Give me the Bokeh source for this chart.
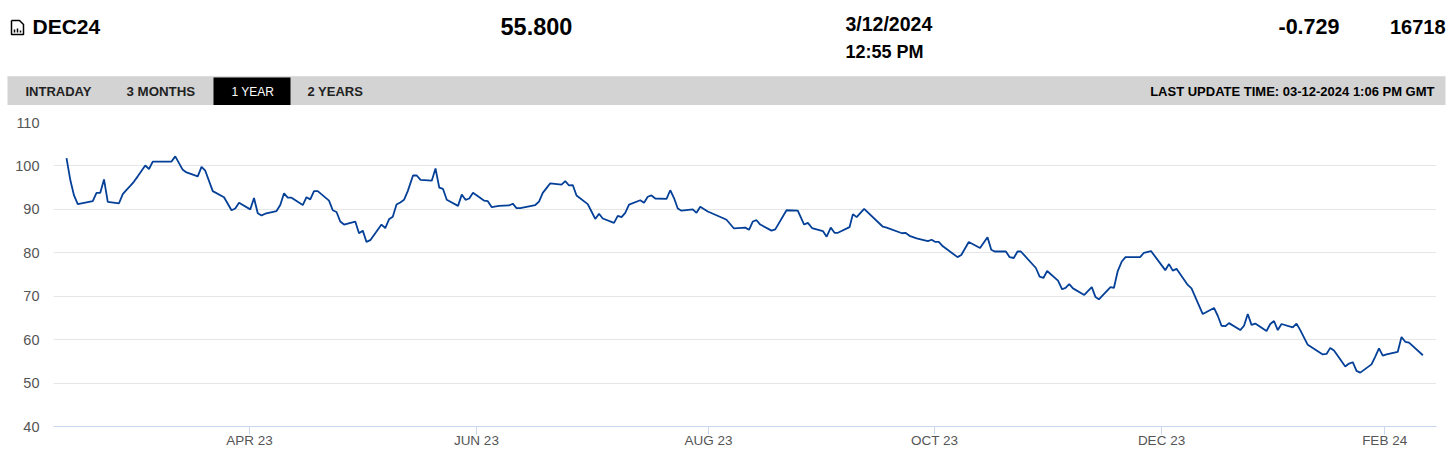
from bokeh.plotting import figure
from bokeh.layouts import column
from bokeh.models import FixedTicker, Range1d
from bokeh.core.properties import value
from bokeh.embed import file_html
from bokeh.resources import INLINE

# --- data ---
DAYS = [0,1,2,3,7,8,9,10,11,14,15,16,17,18,19,21,22,23,28,29,31,32,35,36,37,39,42,44,45,46,49,50,51,52,53,56,57,58,59,60,
        63,64,65,66,67,70,71,72,73,74,77,78,79,80,81,84,85,86,87,88,89,90,91,
        92.4,93.4,94.4,97.4,98.4,99.4,100.4,101.4,104.4,105.4,106.4,107.4,108.4,111.4,112.3,113.4,115.3,
        118,119,120,121,125,126,127,128,129,132,133,134,135,136,139,140,141,142,143,146,147,148,149,150,
        153,154,155,156,157,160,161,162,163,164,167,168,169,171,175,176,178,181,182,183,184,185,188,189,192,195,
        196.7,197.7,198.8,201.7,202.7,203.8,204.8,205.7,208.8,209.7,210.7,212.7,217.7,218.7,222.8,223.7,224.8,226.7,
        229.7,230.7,231.7,232.6,233.7,237.6,238.6,240.6,243.6,245.6,246.6,247.5,250.5,251.5,252.6,253.6,254.5,
        258.5,259.5,260.5,261.5,264.4,265.5,266.4,267.4,268.4,271.4,273.4,274.4,275.3,278.4,279.3,280.3,281.4,282.4,
        286.3,287.3,289.2,293,294,295,296,299,300,303,306,307,308,309,310,313,314,315,316,317,320,321,322,323,324,
        327,328,329,331,335,336,337,338,341,342,343,344,345,348,349,350,351,352,355,356,357,358,361.7]
PRICES = [101.8,96.8,93.2,91.2,91.9,93.8,93.8,96.9,91.7,91.4,93.5,94.5,95.4,96.4,97.6,100.1,99.3,101,101,102.2,99.1,98.5,97.6,99.8,98.9,94.2,92.8,89.8,90.2,91.5,
          90,92.6,89.1,88.6,89,89.6,91,93.7,92.7,92.7,
          91,92.8,92.3,94.2,94.2,92,89.8,89.4,87.2,86.5,87.2,84.5,85.1,82.5,82.9,86.5,85.7,87.7,88.3,91.1,91.6,92.2,94.2,
          97.8,97.8,96.8,96.6,99.4,95,94.7,92.2,90.8,93.4,92.2,92.5,93.8,92,91.9,90.5,90.8,
          90.9,91.3,90.3,90.3,91,91.8,93.8,94.9,96,95.7,96.5,95.5,95.6,93.2,91.2,89.5,87.8,89,87.9,86.9,88.5,88.2,89.2,91.1,
          92.1,91.5,92.9,93.2,92.5,92.4,94.4,92.6,90.2,89.7,90,89.2,90.6,89.5,88,87.6,85.6,85.8,85.3,87.2,87.5,86.5,85.1,85.4,89.8,89.7,
          86.5,86.9,85.7,85,83.7,85.8,84.6,84.6,85.9,88.9,88.2,90.1,86,85.8,84.5,84.6,83.9,83.3,
          82.7,83,82.5,82.5,81.5,79,79.5,82.5,81.1,83.6,80.7,80.3,80.3,79,78.8,80.3,80.3,
          76.5,74.5,74.2,75.8,73.6,71.6,71.9,72.8,71.8,70.3,72.1,69.8,69.3,72.1,71.9,75.7,78,79,
          79,80,80.4,76,77.4,75.9,76.3,72.6,71.8,65.9,67.3,65.5,63.2,63.1,63.8,62.2,63.2,65.9,63.4,63.7,62,63.6,64.3,62.2,63.6,
          62.8,63.7,62.2,58.8,56.6,56.7,58.1,57.5,53.8,54.5,54.8,52.8,52.4,54.3,56.1,58,56.3,56.6,57.2,60.6,59.5,59.3,56.4]
TICK_DAYS = [48.8, 109.3, 171.2, 231.5, 292, 351.5]
TICK_LABELS = ["APR 23", "JUN 23", "AUG 23", "OCT 23", "DEC 23", "FEB 24"]
Y_TICKS = [40, 50, 60, 70, 80, 90, 100, 110]
TABS = ["INTRADAY", "3 MONTHS", "1 YEAR", "2 YEARS"]
UPDATE_TEXT = "LAST UPDATE TIME: 03-12-2024 1:06 PM GMT"

FONT = "Liberation Sans"
W, HH, CH = 1450, 105, 362

# --- header strip: coordinates are page pixels, y downward ---
h = figure(width=W, height=HH, x_range=Range1d(0, W), y_range=Range1d(HH, 0),
           output_backend="svg", toolbar_location=None, min_border=0, outline_line_color=None,
           frame_align=False)
h.axis.visible = False
h.grid.visible = False

def put(x, y, s, size, color="#000000", style="bold", align="left"):
    h.text([x], [y], text=[s], text_font=value(FONT), text_font_size=size, text_font_style=style,
           text_color=color, text_align=align, text_baseline="middle")

put(32, 26, "DEC24", "21px")
put(500, 26, "55.800", "23.5px")
put(845, 23, "3/12/2024", "19.5px")
put(845, 51, "12:55 PM", "18px")
put(1278, 26, "-0.729", "21.5px")
put(1445, 26, "16718", "20px", align="right")

# file icon
h.line([11, 19, 23, 23, 11, 11], [20, 20, 24, 34, 34, 20], line_color="#000000", line_width=1.5)
h.segment([14, 17, 20], [32, 28, 30], [14, 17, 20], [29, 32, 32], line_color="#000000", line_width=1.5)

# tab band
h.quad(left=[7], right=[1445], top=[77], bottom=[105], fill_color="#d3d3d3", line_color=None)
h.quad(left=[7], right=[1445], top=[76], bottom=[77], fill_color="#bcbcbc", line_color=None)
h.quad(left=[213], right=[290], top=[77], bottom=[105], fill_color="#000000", line_color=None)
put(25, 91, TABS[0], "13px", "#222222")
put(126, 91, TABS[1], "13.3px", "#222222")
put(231, 91, TABS[2], "12px", "#ffffff", "normal")
put(307, 91, TABS[3], "13px", "#222222")
put(1434, 91, UPDATE_TEXT, "13px", "#000000", align="right")

# --- chart ---
p = figure(width=W, height=CH, x_range=Range1d(-3.47, 365.33), y_range=Range1d(40, 110),
           output_backend="svg", toolbar_location=None, outline_line_color=None, frame_align=False,
           min_border_left=53, min_border_right=14, min_border_top=17, min_border_bottom=41)
p.line(DAYS, PRICES, line_color="#054098", line_width=1.8)

p.xgrid.visible = False
p.ygrid.grid_line_color = "#e6e6e6"
p.ygrid.grid_line_width = 1
p.xaxis.ticker = FixedTicker(ticks=TICK_DAYS)
p.xaxis.major_label_overrides = dict(zip(TICK_DAYS, TICK_LABELS))
p.xaxis.axis_line_color = "#c9d6f0"
p.xaxis.major_tick_line_color = "#c9d6f0"
p.xaxis.major_tick_out = 8
p.xaxis.major_tick_in = 0
p.xaxis.minor_tick_line_color = None
p.xaxis.major_label_text_font_size = "13.5px"
p.xaxis.major_label_text_color = "#555555"
p.xaxis.major_label_text_font = FONT
p.xaxis.major_label_standoff = -2
p.yaxis.ticker = FixedTicker(ticks=Y_TICKS)
p.yaxis.axis_line_color = None
p.yaxis.major_tick_line_color = None
p.yaxis.minor_tick_line_color = None
p.yaxis.major_label_text_font_size = "14.5px"
p.yaxis.major_label_text_color = "#555555"
p.yaxis.major_label_text_font = FONT
p.yaxis.major_label_standoff = 8

open("out.html", "w").write(file_html(column(h, p, spacing=0), INLINE))
print(len(DAYS), len(PRICES))
